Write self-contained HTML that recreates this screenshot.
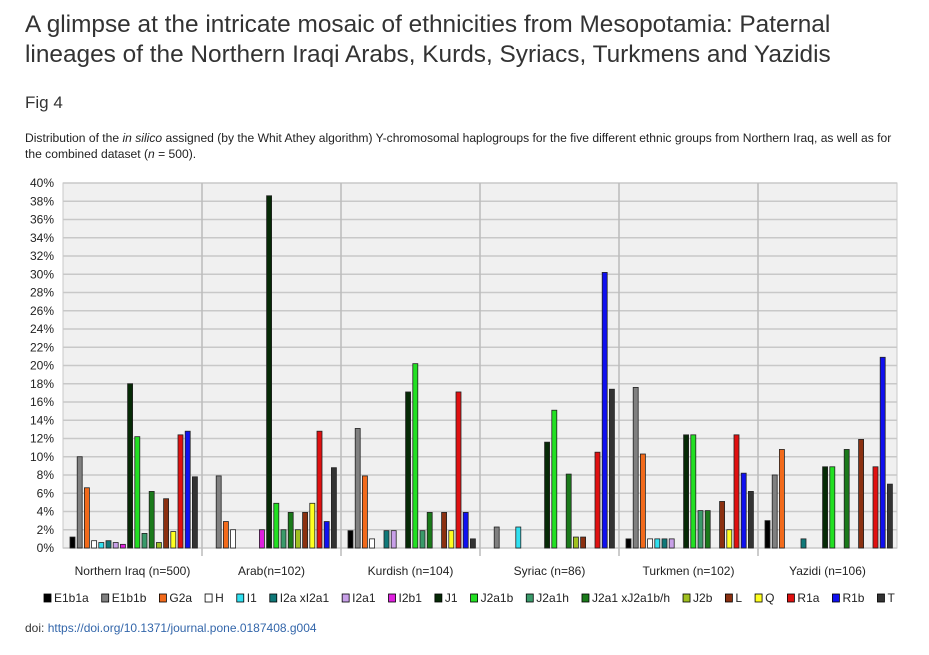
<!DOCTYPE html>
<html><head><meta charset="utf-8"><style>
body{margin:0;width:929px;height:655px;background:#fff;font-family:"Liberation Sans",sans-serif;color:#333;overflow:hidden;position:relative}
.t{position:absolute;left:25px;top:10px;font-size:24.4px;line-height:30px;color:#333}
.f{position:absolute;left:25px;top:93px;font-size:17px}
.c{position:absolute;left:25px;top:130px;font-size:12.1px;line-height:16px;color:#222;width:900px;white-space:nowrap}
.d{position:absolute;left:25px;top:621px;font-size:12px;color:#333}
.d a{color:#3366aa;text-decoration:none}
svg{position:absolute;left:0;top:0}
</style></head><body>
<div class="t">A glimpse at the intricate mosaic of ethnicities from Mesopotamia: Paternal<br>lineages of the Northern Iraqi Arabs, Kurds, Syriacs, Turkmens and Yazidis</div>
<div class="f">Fig 4</div>
<div class="c">Distribution of the <i>in silico</i> assigned (by the Whit Athey algorithm) Y-chromosomal haplogroups for the five different ethnic groups from Northern Iraq, as well as for<br>the combined dataset (<i>n</i> = 500).</div>
<svg id="ch" width="929" height="655"></svg>
<div class="d">doi: <a href="#">https://doi.org/10.1371/journal.pone.0187408.g004</a></div>
<script>
const groups=["Northern Iraq (n=500)","Arab(n=102)","Kurdish (n=104)","Syriac (n=86)","Turkmen (n=102)","Yazidi (n=106)"];
const haplos=["E1b1a","E1b1b","G2a","H","I1","I2a xI2a1","I2a1","I2b1","J1","J2a1b","J2a1h","J2a1 xJ2a1b/h","J2b","L","Q","R1a","R1b","T"];
const colors=["#000","#808080","#f26a1b","#fff","#30e0f0","#0f7878","#c8a0e8","#e020e0","#062a06","#22e022","#3a9a6a","#1a7a1a","#a0c020","#8b3010","#ffff20","#e01010","#1010f0","#333"];
const valNI=[1.2,10,6.6,0.8,0.6,0.8,0.6,0.4,18,12.2,1.6,6.2,0.6,5.4,1.8,12.4,12.8,7.8];
const valArab=[0,7.9,2.9,2,0,0,0,2,38.6,4.9,2,3.9,2,3.9,4.9,12.8,2.9,8.8];
const valKurd=[1.9,13.1,7.9,1,0,1.9,1.9,0,17.1,20.2,1.9,3.9,0,3.9,1.9,17.1,3.9,1];
const valSyr=[0,2.3,0,0,2.3,0,0,0,11.6,15.1,0,8.1,1.2,1.2,0,10.5,30.2,17.4];
const valTurk=[1,17.6,10.3,1,1,1,1,0,12.4,12.4,4.1,4.1,0,5.1,2,12.4,8.2,6.2];
const valYaz=[3,8,10.8,0,0,1,0,0,8.9,8.9,0,10.8,0,11.9,0,8.9,20.9,7];
const series=[valNI,valArab,valKurd,valSyr,valTurk,valYaz];
const yTicks=[0,2,4,6,8,10,12,14,16,18,20,22,24,26,28,30,32,34,36,38,40];
const NS="http://www.w3.org/2000/svg",svg=document.getElementById('ch');
const X0=63,X1=897,Y0=548,Y1=183,gw=(X1-X0)/groups.length;
const y=v=>Y0-(v/40)*(Y0-Y1);
const bx=(g,i)=>X0+g*gw+7+i*7.2;
function mk(t,a,p){const e=document.createElementNS(NS,t);for(const k in a)e.setAttribute(k,a[k]);(p||svg).appendChild(e);return e;}
let bg=mk('rect',{x:X0,y:Y1,width:X1-X0,height:Y0-Y1,fill:'#f0f0f0',stroke:'#c8c8c8'});


yTicks.forEach(v=>{
 let l=mk('line',{x1:X0,x2:X1,y1:y(v),y2:y(v),stroke:'#c8c8c8','stroke-width':1.5});
 
 
 let t=mk('text',{x:54,y:y(v)+4,'text-anchor':'end','font-size':12,fill:'#222'});
 t.textContent=v+'%';
 
 
});
groups.forEach((g,gi)=>{
 if(gi>0){let l=mk('line',{x1:X0+gi*gw,x2:X0+gi*gw,y1:Y1,y2:Y0+8,stroke:'#bbb','stroke-width':1.5});
 
 }
 let t=mk('text',{x:X0+gi*gw+gw/2,y:575,'text-anchor':'middle','font-size':12,fill:'#222'});
 t.textContent=g;
 
 
 series[gi].forEach((v,i)=>{
  if(v<=0)return;
  let r=mk('rect',{x:bx(gi,i),y:y(v),width:5,height:Y0-y(v),fill:colors[i],stroke:'#222','stroke-width':0.8});
  
  
 });
});
let lx=44;
haplos.forEach((h,i)=>{
 let r=mk('rect',{x:lx,y:594,width:7,height:8,fill:colors[i],stroke:'#000','stroke-width':0.8});
 
 
 let t=mk('text',{x:lx+10,y:602,'font-size':12,fill:'#222'});
 t.textContent=h;
 
 
 lx+=10+t.getComputedTextLength()+13;
});
</script>
</body></html>
